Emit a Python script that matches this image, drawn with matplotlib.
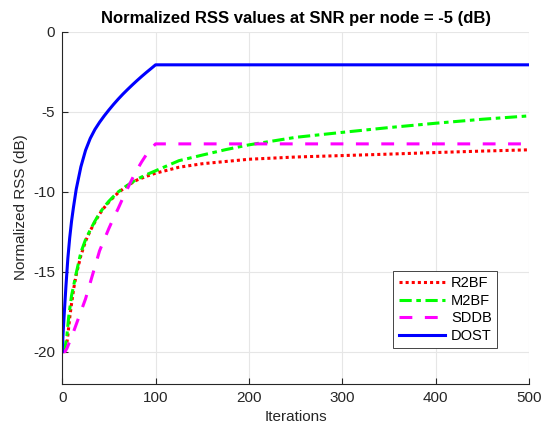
import numpy as np
import matplotlib
matplotlib.use("Agg")
import matplotlib.pyplot as plt

plt.rcParams['font.family'] = ['Liberation Sans', 'DejaVu Sans']
plt.rcParams['axes.unicode_minus'] = False

# --- dados ---
it_r2bf = [0, 3, 4, 6, 8, 10, 12.5, 15, 20, 25, 30, 35, 40, 45, 50, 55, 60, 70, 80, 90, 100,
           125, 150, 200, 250, 300, 350, 400, 450, 500]
r2bf    = [-20, -20, -19.9, -19.0, -17.9, -17.0, -16.0, -15.2, -14.0, -13.1, -12.45, -11.9, -11.4, -11.0,
           -10.65, -10.35, -10.07, -9.62, -9.28, -9.05, -8.85,
           -8.48, -8.26, -7.98, -7.84, -7.75, -7.66, -7.56, -7.47, -7.39]

it_m2bf = [0, 3, 5, 7, 10, 12.5, 15, 20, 25, 30, 35, 40, 45, 50, 55, 60, 70, 80, 90, 100,
           125, 150, 175, 200, 250, 300, 350, 400, 450, 500]
m2bf    = [-20, -19.8, -19.0, -17.8, -16.5, -15.8, -15.1, -13.8, -13.0, -12.4, -11.85, -11.35, -10.95,
           -10.6, -10.3, -10.02, -9.6, -9.23, -8.95, -8.7,
           -8.07, -7.72, -7.38, -7.08, -6.61, -6.3, -6.0, -5.73, -5.48, -5.27]

it_sddb = [0, 3, 5, 10, 15, 20, 25, 30, 35, 40, 45, 50, 55, 60, 65, 70, 75, 80, 85, 90, 95, 100, 500]
sddb    = [-20, -20, -19.8, -19.1, -18.3, -17.5, -16.7, -15.7, -14.7, -13.7, -13.0, -12.3, -11.65, -11.05,
           -10.4, -9.8, -9.2, -8.65, -8.15, -7.7, -7.33, -7.02, -7.02]

it_dost = [0, 1, 2, 4, 6, 8, 10, 12, 15, 20, 25, 30, 35, 40, 45, 50, 55, 60, 65, 70, 75, 80, 85, 90, 95, 100, 500]
dost    = [-20, -18.8, -17.8, -15.9, -14.2, -12.9, -11.85, -11.0, -9.85, -8.45, -7.42, -6.68, -6.12, -5.67,
           -5.27, -4.9, -4.55, -4.22, -3.91, -3.62, -3.34, -3.07, -2.81, -2.56, -2.32, -2.08, -2.08]

fig = plt.figure(figsize=(5.41, 4.32), dpi=100)
ax = fig.add_axes([0.115, 0.112, 0.863, 0.815])

ax.plot(it_r2bf, r2bf, color="red", linestyle=(0, (1, 1.0)), linewidth=2.2, label="R2BF")
ax.plot(it_m2bf, m2bf, color="#00ff00", linestyle=(0, (4, 1.5, 1.5, 1.5)), linewidth=2.2, label="M2BF")
ax.plot(it_sddb, sddb, color="magenta", linestyle=(0, (4.2, 4.1)), linewidth=2.2, label="SDDB")
ax.plot(it_dost, dost, color="blue", linestyle="-", linewidth=2.2, label="DOST")

ax.set_xlim(0, 500)
ax.set_ylim(-22, 0)
ax.set_xticks(range(0, 501, 100))
ax.set_yticks([-20, -15, -10, -5, 0])

ax.grid(True, color="#e6e6e6", linewidth=0.8)
ax.set_axisbelow(True)
for s in ["top", "right"]:
    ax.spines[s].set_visible(False)
for s in ["left", "bottom"]:
    ax.spines[s].set_color("#262626")
    ax.spines[s].set_linewidth(0.8)
ax.tick_params(direction="in", length=4, width=0.8, colors="#262626", labelsize=11, pad=5)

ax.set_xlabel("Iterations", fontsize=11, color="#262626")
ax.set_ylabel("Normalized RSS (dB)", fontsize=11, color="#262626")
ax.set_title("Normalized RSS values at SNR per node = -5 (dB)", fontsize=12, fontweight="bold")

leg = ax.legend(loc="lower right", bbox_to_anchor=(0.931, 0.101), borderaxespad=0, fontsize=10.5,
                fancybox=False, framealpha=1, edgecolor="#262626", handlelength=3.2,
                borderpad=0.35, labelspacing=0.25, handletextpad=0.4)
leg.get_frame().set_linewidth(0.6)

plt.savefig("out.png", dpi=100)
